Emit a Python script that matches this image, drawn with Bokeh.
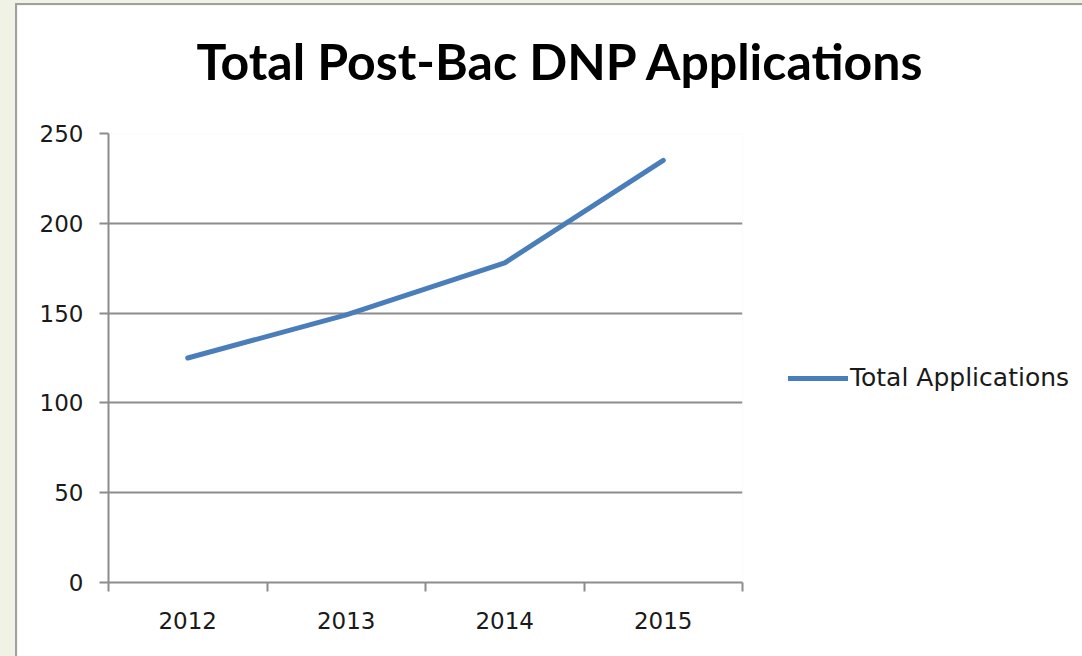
from bokeh.plotting import figure
from bokeh.models import FixedTicker, Legend, LegendItem, Range1d, Title
from bokeh.embed import file_html
from bokeh.resources import INLINE

# ---- data ----
years = ["2012", "2013", "2014", "2015"]
applications = [125, 149, 178, 235]
y_ticks = [0, 50, 100, 150, 200, 250]
series_name = "Total Applications"
title_text = "Total Post-Bac DNP Applications"

x_centers = [i + 0.5 for i in range(len(years))]
x_bounds = list(range(len(years) + 1))

GRID = "#8c8c8c"
TXT = "#1a1a1a"
BLUE = "#4a7ebb"
TICK_FONT = "DejaVu Sans"

p = figure(frame_width=634, frame_height=449, output_backend="svg", toolbar_location=None,
           x_range=Range1d(0, len(years)), y_range=Range1d(0, 250),
           min_border_left=91, min_border_right=340, min_border_top=128,
           min_border_bottom=74)
p.background_fill_color = "white"
p.border_fill_color = "white"
p.outline_line_color = None

r = p.line(x_centers, applications, line_color=BLUE, line_width=5, line_cap="round",
           line_join="round")

# real title, with a blank spacer title between it and the frame
p.title = Title(text=title_text, align="left", offset=88, standoff=0,
                text_font="Lato", text_font_style="bold", text_font_size="50px",
                text_color="#000000")
p.add_layout(Title(text=" ", text_font_size="1px", standoff=40), "above")

# x axis: labels at category centers, tick marks at boundaries
xa = p.xaxis[0]
xa.ticker = FixedTicker(ticks=x_centers, minor_ticks=x_bounds)
xa.major_label_overrides = {c: y for c, y in zip(x_centers, years)}
xa.major_tick_line_color = None
xa.major_tick_in = 0
xa.major_tick_out = 0
xa.minor_tick_line_color = GRID
xa.minor_tick_line_width = 2
xa.minor_tick_in = 0
xa.minor_tick_out = 9
xa.axis_line_color = GRID
xa.axis_line_width = 2
xa.major_label_standoff = 20
xa.major_label_text_font = TICK_FONT
xa.major_label_text_font_size = "23px"
xa.major_label_text_color = TXT

ya = p.yaxis[0]
ya.ticker = FixedTicker(ticks=y_ticks)
ya.minor_tick_line_color = None
ya.major_tick_line_color = GRID
ya.major_tick_line_width = 2
ya.major_tick_in = 0
ya.major_tick_out = 9
ya.axis_line_color = GRID
ya.axis_line_width = 2
ya.major_label_standoff = 16
ya.major_label_text_font = TICK_FONT
ya.major_label_text_font_size = "23px"
ya.major_label_text_color = TXT

p.xgrid.grid_line_color = None
p.ygrid.ticker = FixedTicker(ticks=y_ticks)
p.ygrid.grid_line_color = GRID
p.ygrid.grid_line_width = 2

legend = Legend(items=[LegendItem(label=series_name, renderers=[r])],
                location=(46, 190), orientation="vertical",
                glyph_width=60, glyph_height=24, label_standoff=2,
                padding=0, margin=0, spacing=0,
                border_line_color=None, background_fill_alpha=0,
                label_text_font=TICK_FONT, label_text_font_size="25px",
                label_text_color=TXT)
p.add_layout(legend, "right")

p.styles = {"border-left": "2px solid #a0a0a0", "border-top": "2px solid #a0a0a0"}

html = file_html(p, INLINE)
html = html.replace("</head>",
                    "<style>html,body{overflow:hidden;background:#f1f2e6;}"
                    "body{margin:3px 0 0 15px;}</style></head>", 1)
open("out.html", "w").write(html)
